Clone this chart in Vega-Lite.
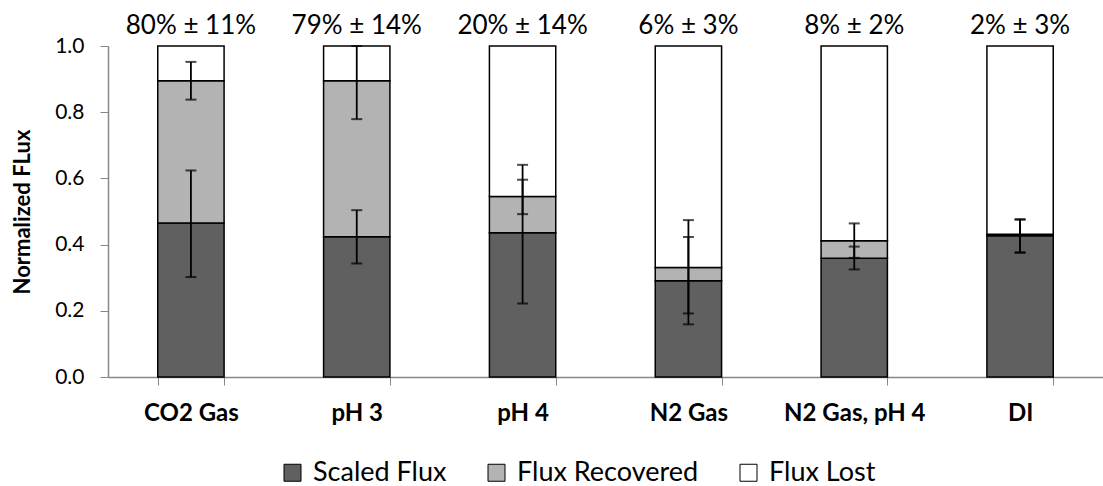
{
  "$schema": "https://vega.github.io/schema/vega-lite/v6.json",
  "autosize": {"type": "none"},
  "width": 995,
  "height": 331,
  "padding": {"left": 108, "top": 46, "right": 0, "bottom": 109},
  "background": "white",
  "config": {
    "view": {"stroke": null},
    "font": "Lato",
    "axis": {"grid": false, "domainColor": "#888888", "tickColor": "#888888", "labelColor": "#000000", "titleColor": "#000000", "labelFont": "Lato", "titleFont": "Lato"},
    "legend": {"labelFont": "Lato"}
  },
  "datasets": {
    "bars": [
      {"cond": "CO2 Gas", "part": "Scaled Flux", "lo": 0, "hi": 0.465},
      {"cond": "CO2 Gas", "part": "Flux Recovered", "lo": 0.465, "hi": 0.895},
      {"cond": "CO2 Gas", "part": "Flux Lost", "lo": 0.895, "hi": 1},
      {"cond": "pH 3", "part": "Scaled Flux", "lo": 0, "hi": 0.424},
      {"cond": "pH 3", "part": "Flux Recovered", "lo": 0.424, "hi": 0.895},
      {"cond": "pH 3", "part": "Flux Lost", "lo": 0.895, "hi": 1},
      {"cond": "pH 4", "part": "Scaled Flux", "lo": 0, "hi": 0.436},
      {"cond": "pH 4", "part": "Flux Recovered", "lo": 0.436, "hi": 0.545},
      {"cond": "pH 4", "part": "Flux Lost", "lo": 0.545, "hi": 1},
      {"cond": "N2 Gas", "part": "Scaled Flux", "lo": 0, "hi": 0.291},
      {"cond": "N2 Gas", "part": "Flux Recovered", "lo": 0.291, "hi": 0.331},
      {"cond": "N2 Gas", "part": "Flux Lost", "lo": 0.331, "hi": 1},
      {"cond": "N2 Gas, pH 4", "part": "Scaled Flux", "lo": 0, "hi": 0.359},
      {"cond": "N2 Gas, pH 4", "part": "Flux Recovered", "lo": 0.359, "hi": 0.412},
      {"cond": "N2 Gas, pH 4", "part": "Flux Lost", "lo": 0.412, "hi": 1},
      {"cond": "DI", "part": "Scaled Flux", "lo": 0, "hi": 0.427},
      {"cond": "DI", "part": "Flux Recovered", "lo": 0.427, "hi": 0.431},
      {"cond": "DI", "part": "Flux Lost", "lo": 0.431, "hi": 1}
    ],
    "errs": [
      {"cond": "CO2 Gas", "elo": 0.302, "ehi": 0.624},
      {"cond": "CO2 Gas", "elo": 0.838, "ehi": 0.952},
      {"cond": "pH 3", "elo": 0.343, "ehi": 0.504},
      {"cond": "pH 3", "elo": 0.779, "ehi": 1.0},
      {"cond": "pH 4", "elo": 0.222, "ehi": 0.641},
      {"cond": "pH 4", "elo": 0.492, "ehi": 0.596},
      {"cond": "N2 Gas", "elo": 0.159, "ehi": 0.423},
      {"cond": "N2 Gas", "elo": 0.192, "ehi": 0.474},
      {"cond": "N2 Gas, pH 4", "elo": 0.325, "ehi": 0.394},
      {"cond": "N2 Gas, pH 4", "elo": 0.36, "ehi": 0.464},
      {"cond": "DI", "elo": 0.375, "ehi": 0.477},
      {"cond": "DI", "elo": 0.377, "ehi": 0.475}
    ],
    "labels": [
      {"cond": "CO2 Gas", "text": "80% ± 11%"},
      {"cond": "pH 3", "text": "79% ± 14%"},
      {"cond": "pH 4", "text": "20% ± 14%"},
      {"cond": "N2 Gas", "text": "6% ± 3%"},
      {"cond": "N2 Gas, pH 4", "text": "8% ± 2%"},
      {"cond": "DI", "text": "2% ± 3%"}
    ]
  },
  "encoding": {
    "x": {
      "field": "cond", "type": "nominal", "sort": null,
      "scale": {"paddingInner": 0.6, "paddingOuter": 0.3},
      "axis": {"title": null, "labelAngle": 0, "labelFontSize": 24, "labelFontWeight": "bold", "labelPadding": 16, "tickSize": 8, "tickBand": "extent", "domainWidth": 1.5}
    }
  },
  "layer": [
    {
      "data": {"name": "bars"},
      "mark": {"type": "bar", "stroke": "#000000", "strokeWidth": 1.5},
      "encoding": {
        "y": {"field": "lo", "type": "quantitative", "scale": {"domain": [0, 1]},
          "axis": {"title": "Normalized FLux", "values": [0, 0.2, 0.4, 0.6, 0.8, 1.0], "format": ".1f", "labelFontSize": 21, "labelPadding": 16, "tickSize": 8, "titleFontSize": 22, "titleFontWeight": "bold", "titlePadding": 20, "domainWidth": 1.5}},
        "y2": {"field": "hi"},
        "color": {"field": "part", "type": "nominal",
          "scale": {"domain": ["Scaled Flux", "Flux Recovered", "Flux Lost"], "range": ["#606060", "#b3b3b3", "#ffffff"]},
          "legend": {"title": null, "orient": "none", "legendX": 171, "legendY": 413, "direction": "horizontal", "symbolType": "square", "symbolSize": 289, "symbolStrokeColor": "#000000", "symbolStrokeWidth": 1, "symbolOpacity": 1, "labelFontSize": 27, "labelLimit": 400, "labelColor": "#000000", "labelOffset": 7, "columnPadding": 36}}
      }
    },
    {
      "data": {"name": "errs"},
      "mark": {"type": "rule", "color": "#000000", "strokeWidth": 1.8},
      "encoding": {
        "y": {"field": "elo", "type": "quantitative"},
        "y2": {"field": "ehi"}
      }
    },
    {
      "data": {"name": "errs"},
      "mark": {"type": "tick", "color": "#000000", "orient": "horizontal", "size": 11, "thickness": 2},
      "encoding": {"y": {"field": "elo", "type": "quantitative"}}
    },
    {
      "data": {"name": "errs"},
      "mark": {"type": "tick", "color": "#000000", "orient": "horizontal", "size": 11, "thickness": 2},
      "encoding": {"y": {"field": "ehi", "type": "quantitative"}}
    },
    {
      "data": {"name": "labels"},
      "mark": {"type": "text", "fontSize": 26, "baseline": "alphabetic", "dy": -12, "color": "#000000", "font": "Lato"},
      "encoding": {
        "y": {"datum": 1},
        "text": {"field": "text"}
      }
    }
  ]
}
